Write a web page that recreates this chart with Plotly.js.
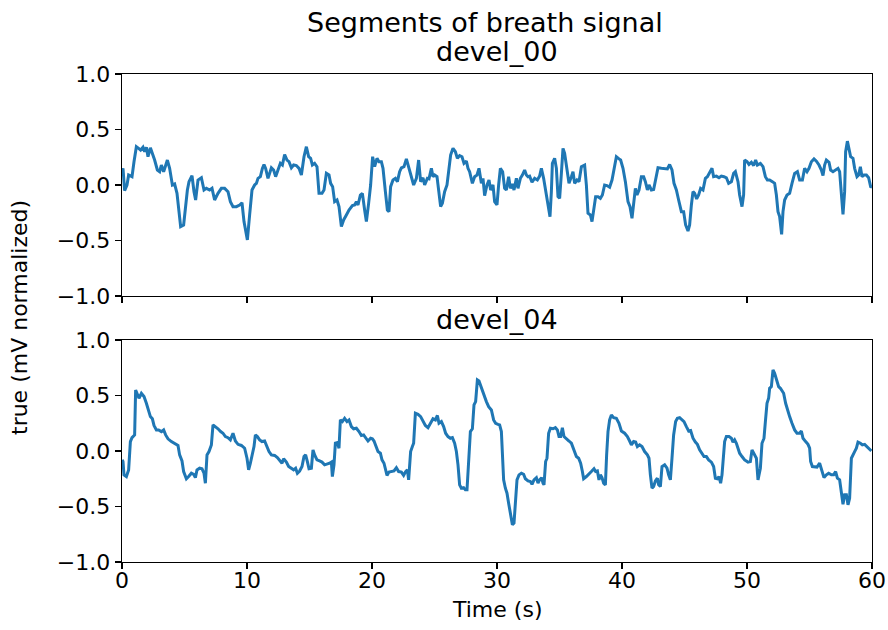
<!DOCTYPE html>
<html>
<head>
<meta charset="utf-8">
<script src="https://cdn.plot.ly/plotly-3.0.1.min.js"></script>
<style>html,body{margin:0;padding:0;background:#fff;}#chart{width:888px;height:630px;}</style>
</head>
<body>
<div id="chart"></div>
<script>
// devel_00 segment: [time (s), value]
const devel00 = [[0,0.12],[0.08,0.15],[0.21,-0.05],[0.4,0],[0.53,0.09],[0.8,0.075],[0.96,0.21],[1.15,0.345],[1.33,0.33],[1.49,0.315],[1.68,0.34],[1.81,0.3],[1.95,0.34],[2.08,0.255],[2.27,0.335],[2.43,0.285],[2.61,0.225],[2.83,0.135],[3.01,0.12],[3.15,0.18],[3.33,0.12],[3.63,0.225],[3.81,0.15],[4.03,0],[4.21,0.01],[4.4,-0.075],[4.56,-0.24],[4.69,-0.375],[4.93,-0.36],[5.09,-0.18],[5.23,-0.045],[5.36,0.03],[5.6,0.085],[5.76,-0.06],[5.89,-0.135],[6.08,0.045],[6.35,0.065],[6.56,-0.045],[6.75,-0.03],[7.01,-0.045],[7.2,-0.03],[7.41,-0.135],[7.68,-0.075],[7.95,-0.03],[8.21,-0.03],[8.48,-0.06],[8.67,-0.15],[8.88,-0.195],[9.15,-0.195],[9.41,-0.18],[9.6,-0.16],[9.76,-0.33],[9.9,-0.42],[10.03,-0.495],[10.21,-0.27],[10.4,-0.045],[10.61,0],[10.75,0.015],[10.88,0.06],[11.07,0.075],[11.23,0.15],[11.36,0.185],[11.49,0.15],[11.68,0.06],[11.81,0.105],[11.95,0.155],[12.13,0.135],[12.29,0.075],[12.48,0.135],[12.67,0.195],[12.83,0.18],[13.01,0.275],[13.2,0.225],[13.36,0.21],[13.55,0.155],[13.73,0.18],[13.95,0.175],[14.16,0.15],[14.35,0.09],[14.56,0.255],[14.75,0.345],[14.93,0.255],[15.09,0.24],[15.23,0.18],[15.41,0.195],[15.6,0.165],[15.76,-0.075],[16.0,-0.075],[16.16,-0.045],[16.35,0.105],[16.56,0.09],[16.69,0.015],[16.85,-0.015],[17.01,-0.15],[17.2,-0.135],[17.36,-0.195],[17.55,-0.375],[17.73,-0.315],[17.95,-0.27],[18.16,-0.225],[18.43,-0.185],[18.61,-0.18],[18.75,-0.15],[18.88,-0.18],[19.07,-0.09],[19.23,-0.075],[19.41,-0.225],[19.55,-0.33],[19.73,-0.165],[19.89,0],[20.05,0.255],[20.21,0.165],[20.4,0.24],[20.56,0.21],[20.75,0.21],[20.88,0.15],[21.07,-0.06],[21.23,-0.225],[21.36,-0.24],[21.49,-0.015],[21.68,0.045],[21.87,0.06],[22.03,0.03],[22.21,0.12],[22.35,0.155],[22.56,0.165],[22.75,0.235],[22.93,0.165],[23.09,0.09],[23.33,0],[23.55,0.06],[23.73,0.225],[23.89,0.03],[24.08,0.065],[24.21,0],[24.43,0.06],[24.56,0.055],[24.75,0.15],[24.88,0.075],[25.01,0.09],[25.2,0.075],[25.33,-0.06],[25.49,-0.195],[25.63,-0.165],[25.81,-0.06],[26.0,0],[26.13,0.15],[26.29,0.27],[26.48,0.33],[26.67,0.3],[26.83,0.24],[27.01,0.265],[27.2,0.255],[27.36,0.195],[27.55,0.215],[27.68,0.15],[27.81,0.12],[28.03,0.015],[28.21,0.075],[28.4,0.09],[28.56,0.15],[28.75,0.015],[28.88,0.06],[29.01,-0.095],[29.2,0],[29.36,0.045],[29.49,-0.045],[29.68,0],[29.81,-0.15],[30.0,-0.18],[30.13,0],[30.27,0.15],[30.45,0.12],[30.61,-0.03],[30.75,-0.045],[30.93,0.075],[31.07,-0.03],[31.23,0.01],[31.36,-0.045],[31.55,0.06],[31.68,-0.03],[31.87,0.06],[32.03,0.09],[32.21,0.135],[32.35,0.09],[32.48,0.075],[32.61,0.08],[32.8,0.025],[33.01,0.06],[33.23,0.045],[33.41,0.08],[33.55,0.15],[33.73,0.06],[33.89,-0.06],[34.08,-0.21],[34.24,-0.285],[34.35,-0.06],[34.43,0.195],[34.61,0.24],[34.75,0.15],[34.88,-0.105],[35.01,-0.12],[35.15,0.105],[35.28,0.33],[35.41,0.285],[35.55,0.18],[35.76,0.015],[35.95,0.075],[36.08,0.12],[36.21,0.015],[36.4,0.045],[36.56,0.03],[36.75,0.165],[37.01,0.18],[37.15,0],[37.28,-0.255],[37.47,-0.27],[37.6,-0.33],[37.73,-0.225],[37.89,-0.105],[38.08,-0.105],[38.27,-0.12],[38.43,-0.09],[38.61,0],[38.8,-0.005],[39.01,-0.02],[39.2,0.045],[39.36,0.15],[39.55,0.255],[39.76,0.235],[39.89,0.225],[40.08,0.15],[40.27,0.03],[40.48,-0.15],[40.64,-0.195],[40.8,-0.3],[40.93,-0.15],[41.07,-0.03],[41.2,-0.09],[41.36,-0.045],[41.55,0.075],[41.73,0.075],[41.87,0.03],[42.03,-0.045],[42.16,0],[42.35,-0.045],[42.53,-0.04],[42.69,0.06],[42.88,0.155],[43.15,0.15],[43.41,0.15],[43.63,0.145],[43.81,0.185],[44.0,0.135],[44.16,0.015],[44.35,-0.045],[44.53,-0.135],[44.75,-0.24],[44.93,-0.24],[45.09,-0.36],[45.28,-0.415],[45.41,-0.36],[45.55,-0.18],[45.68,-0.06],[45.81,-0.075],[45.97,-0.125],[46.13,-0.09],[46.29,-0.03],[46.48,-0.045],[46.67,0.06],[46.83,0.075],[47.01,0.115],[47.2,0.15],[47.33,0.075],[47.55,0.08],[47.76,0.065],[47.95,0.08],[48.16,0.075],[48.35,0.065],[48.53,0.015],[48.75,0.03],[48.93,0.105],[49.07,0.12],[49.28,0.03],[49.41,-0.09],[49.6,-0.195],[49.73,-0.09],[49.81,0.225],[50.0,0.21],[50.16,0.185],[50.35,0.205],[50.53,0.175],[50.69,0.225],[50.83,0.18],[51.07,0.195],[51.28,0.165],[51.47,0.075],[51.63,0.045],[51.81,0.045],[52.03,0.03],[52.21,0.015],[52.35,-0.09],[52.48,-0.24],[52.61,-0.285],[52.77,-0.445],[52.88,-0.24],[53.01,-0.135],[53.2,-0.09],[53.41,-0.075],[53.6,0.015],[53.81,0.105],[54.03,0.12],[54.21,0.045],[54.43,0.045],[54.61,0.15],[54.8,0.12],[54.96,0.15],[55.15,0.21],[55.36,0.235],[55.55,0.215],[55.76,0.18],[55.95,0.135],[56.08,0.085],[56.21,0.18],[56.35,0.225],[56.56,0.205],[56.69,0.135],[56.88,0.12],[57.09,0.135],[57.28,0.15],[57.41,0.12],[57.55,-0.12],[57.68,-0.265],[57.81,-0.06],[57.89,0.3],[58.03,0.395],[58.16,0.315],[58.29,0.255],[58.48,0.24],[58.61,0.15],[58.8,0.075],[58.93,0.09],[59.07,0.165],[59.2,0.075],[59.36,0.09],[59.55,0.09],[59.73,0.065],[59.89,-0.015],[60,-0.02]];

// devel_04 segment: [time (s), value]
const devel04 = [[0,-0.08],[0.08,-0.095],[0.16,-0.215],[0.35,-0.23],[0.53,-0.17],[0.67,0.085],[0.8,0.12],[1.01,0.145],[1.09,0.55],[1.23,0.505],[1.36,0.475],[1.55,0.52],[1.76,0.49],[1.95,0.43],[2.13,0.37],[2.27,0.31],[2.43,0.29],[2.56,0.23],[2.75,0.19],[2.93,0.19],[3.15,0.175],[3.33,0.19],[3.49,0.145],[3.68,0.11],[3.95,0.085],[4.21,0.07],[4.48,0.05],[4.61,-0.035],[4.8,-0.09],[4.93,-0.185],[5.15,-0.25],[5.33,-0.23],[5.55,-0.2],[5.73,-0.21],[5.87,-0.24],[6.0,-0.17],[6.21,-0.155],[6.4,-0.16],[6.56,-0.2],[6.67,-0.29],[6.8,-0.035],[6.96,-0.005],[7.15,0.055],[7.28,0.235],[7.47,0.22],[7.68,0.2],[7.89,0.175],[8.08,0.16],[8.27,0.13],[8.48,0.12],[8.67,0.1],[8.88,0.16],[9.07,0.09],[9.28,0.06],[9.55,0.05],[9.81,0.025],[10.0,-0.065],[10.13,-0.17],[10.27,-0.11],[10.43,-0.035],[10.56,0.04],[10.67,0.145],[10.83,0.13],[11.01,0.1],[11.2,0.085],[11.41,0.09],[11.6,0.04],[11.76,-0.005],[11.95,-0.035],[12.21,-0.04],[12.43,-0.06],[12.61,-0.08],[12.8,-0.11],[12.93,-0.07],[13.15,-0.1],[13.33,-0.14],[13.55,-0.16],[13.73,-0.17],[13.89,-0.155],[14.03,-0.2],[14.21,-0.18],[14.4,-0.14],[14.56,-0.05],[14.69,-0.035],[14.83,-0.095],[14.96,-0.16],[15.15,-0.155],[15.28,0.01],[15.41,-0.035],[15.6,-0.08],[15.81,-0.09],[16.0,-0.1],[16.21,-0.125],[16.4,-0.12],[16.61,-0.11],[16.75,-0.1],[16.83,-0.23],[16.96,-0.125],[17.07,0.07],[17.23,0.075],[17.36,0.025],[17.47,0.28],[17.63,0.265],[17.81,0.295],[18.0,0.265],[18.16,0.28],[18.35,0.22],[18.53,0.2],[18.75,0.205],[18.96,0.175],[19.15,0.14],[19.33,0.145],[19.55,0.115],[19.68,0.09],[19.89,0.115],[20.03,0.11],[20.16,0.09],[20.35,0.04],[20.48,-0.005],[20.67,-0.02],[20.8,-0.08],[20.96,-0.11],[21.07,-0.155],[21.2,-0.22],[21.36,-0.19],[21.55,-0.185],[21.76,-0.18],[21.95,-0.15],[22.13,-0.185],[22.35,-0.19],[22.53,-0.22],[22.69,-0.185],[22.83,-0.17],[22.93,-0.26],[23.09,-0.005],[23.23,0.04],[23.33,0.07],[23.47,0.34],[23.68,0.33],[23.89,0.31],[24.08,0.265],[24.27,0.23],[24.48,0.21],[24.67,0.25],[24.88,0.29],[25.07,0.28],[25.23,0.32],[25.36,0.25],[25.55,0.265],[25.73,0.22],[25.89,0.16],[26.08,0.13],[26.27,0.115],[26.43,0.12],[26.61,0.07],[26.75,-0.005],[26.88,-0.125],[27.01,-0.305],[27.15,-0.335],[27.33,-0.33],[27.47,-0.35],[27.6,-0.35],[27.73,-0.095],[27.87,0.175],[28.03,0.2],[28.16,0.415],[28.29,0.445],[28.43,0.64],[28.56,0.63],[28.75,0.565],[28.96,0.49],[29.15,0.445],[29.33,0.4],[29.55,0.37],[29.73,0.28],[29.89,0.25],[30.08,0.24],[30.21,0.235],[30.35,0.175],[30.43,-0.035],[30.53,-0.26],[30.67,-0.335],[30.8,-0.38],[30.93,-0.47],[31.07,-0.575],[31.23,-0.665],[31.36,-0.65],[31.47,-0.455],[31.6,-0.26],[31.76,-0.215],[31.95,-0.2],[32.13,-0.21],[32.27,-0.25],[32.48,-0.27],[32.67,-0.275],[32.8,-0.3],[32.96,-0.26],[33.15,-0.24],[33.28,-0.29],[33.41,-0.26],[33.57,-0.24],[33.68,-0.29],[33.76,-0.305],[33.89,-0.095],[34.0,-0.065],[34.13,0.16],[34.27,0.205],[34.48,0.2],[34.67,0.21],[34.83,0.19],[34.96,0.13],[35.09,0.13],[35.23,0.21],[35.36,0.13],[35.55,0.115],[35.76,0.09],[35.95,0.07],[36.08,0.025],[36.21,-0.005],[36.35,-0.05],[36.53,-0.065],[36.69,-0.11],[36.83,-0.185],[36.93,-0.25],[37.15,-0.23],[37.36,-0.21],[37.55,-0.185],[37.76,-0.16],[37.89,-0.185],[38.03,-0.18],[38.16,-0.26],[38.27,-0.215],[38.4,-0.24],[38.53,-0.29],[38.67,-0.305],[38.77,-0.035],[38.88,0.175],[39.01,0.28],[39.15,0.325],[39.33,0.3],[39.55,0.295],[39.76,0.25],[39.95,0.18],[40.21,0.16],[40.43,0.13],[40.61,0.09],[40.75,0.055],[40.93,0.085],[41.09,0.08],[41.23,0.04],[41.41,0.055],[41.6,0.04],[41.81,-0.005],[42.03,-0.035],[42.16,-0.065],[42.27,-0.215],[42.4,-0.335],[42.53,-0.32],[42.67,-0.27],[42.83,-0.245],[42.93,-0.305],[43.07,-0.32],[43.2,-0.14],[43.41,-0.125],[43.6,-0.155],[43.73,-0.215],[43.87,-0.26],[44.0,-0.065],[44.13,0.145],[44.29,0.265],[44.43,0.295],[44.61,0.3],[44.8,0.28],[44.96,0.265],[45.15,0.22],[45.33,0.18],[45.49,0.185],[45.68,0.115],[45.87,0.08],[46.03,0.06],[46.21,0.01],[46.4,-0.03],[46.56,-0.05],[46.75,-0.05],[46.93,-0.08],[47.15,-0.1],[47.33,-0.14],[47.47,-0.245],[47.63,-0.25],[47.76,-0.23],[47.89,-0.29],[48.0,-0.215],[48.11,-0.035],[48.21,0.085],[48.35,0.13],[48.56,0.13],[48.75,0.115],[48.88,0.08],[49.01,0.1],[49.15,0.07],[49.28,0.025],[49.41,-0.02],[49.6,-0.05],[49.81,-0.08],[50.08,-0.1],[50.27,-0.095],[50.4,0.01],[50.53,-0.02],[50.75,-0.065],[50.88,-0.26],[51.07,-0.155],[51.2,0.07],[51.36,0.115],[51.47,0.265],[51.6,0.43],[51.73,0.475],[51.81,0.565],[51.95,0.58],[52.08,0.73],[52.21,0.7],[52.35,0.64],[52.53,0.58],[52.67,0.565],[52.83,0.54],[52.93,0.52],[53.09,0.43],[53.23,0.37],[53.41,0.31],[53.6,0.25],[53.81,0.19],[54.0,0.16],[54.21,0.16],[54.35,0.18],[54.48,0.115],[54.69,0.085],[54.88,0.06],[55.01,0.025],[55.09,-0.095],[55.23,-0.14],[55.41,-0.14],[55.6,-0.145],[55.81,-0.11],[56.0,-0.17],[56.16,-0.24],[56.35,-0.215],[56.53,-0.2],[56.75,-0.215],[56.93,-0.215],[57.09,-0.185],[57.23,-0.245],[57.41,-0.26],[57.55,-0.365],[57.68,-0.48],[57.81,-0.395],[57.95,-0.395],[58.08,-0.485],[58.21,-0.425],[58.35,-0.065],[58.48,-0.03],[58.61,-0.005],[58.75,0.025],[58.88,0.08],[59.07,0.07],[59.23,0.055],[59.41,0.06],[59.6,0.04],[59.76,0.025],[59.95,0.0]];

const xTicks = [0, 10, 20, 30, 40, 50, 60];
const yTicks = [-1.0, -0.5, 0.0, 0.5, 1.0];
const titleMain = 'Segments of breath signal';
const subTitles = ['devel_00', 'devel_04'];
const xLabel = 'Time (s)';
const yLabel = 'true (mV normalized)';

const FONT = 'DejaVu Sans, sans-serif';
const BLUE = '#1f77b4';
const TICK_SIZE = 22, LABEL_SIZE = 22, TITLE_SIZE = 27;

const traces = [
  { x: devel00.map(p => p[0]), y: devel00.map(p => p[1]), xaxis: 'x2', yaxis: 'y2',
    type: 'scatter', mode: 'lines', line: { color: BLUE, width: 3 }, hoverinfo: 'skip' },
  { x: devel04.map(p => p[0]), y: devel04.map(p => p[1]), xaxis: 'x', yaxis: 'y',
    type: 'scatter', mode: 'lines', line: { color: BLUE, width: 3 }, hoverinfo: 'skip' }
];

const axBase = {
  showgrid: false, zeroline: false, showline: true, mirror: true,
  linecolor: '#000', linewidth: 1.4, ticks: 'outside', ticklen: 6, tickwidth: 1.4,
  tickcolor: '#000', tickfont: { family: FONT, size: TICK_SIZE, color: '#000' }
};

const topBottom = 266 / 488, botTop = 222 / 488;

const layout = {
  width: 888, height: 630,
  margin: { l: 122, r: 16, t: 74, b: 68 },
  paper_bgcolor: '#fff', plot_bgcolor: '#fff',
  showlegend: false,
  font: { family: FONT, color: '#000' },
  xaxis: Object.assign({}, axBase, { domain: [0, 1], anchor: 'y', range: [0, 60],
    tickvals: xTicks, ticktext: xTicks.map(String), ticklabelstandoff: -8 }),
  yaxis: Object.assign({}, axBase, { domain: [0, botTop], anchor: 'x', range: [-1, 1],
    tickvals: yTicks, tickformat: '.1f' }),
  xaxis2: Object.assign({}, axBase, { domain: [0, 1], anchor: 'y2', range: [0, 60],
    tickvals: xTicks, showticklabels: false }),
  yaxis2: Object.assign({}, axBase, { domain: [topBottom, 1], anchor: 'x2', range: [-1, 1],
    tickvals: yTicks, tickformat: '.1f' }),
  annotations: [
    { text: titleMain, xref: 'paper', yref: 'paper', x: 0.484, y: (562 - 22) / 488,
      xanchor: 'center', yanchor: 'middle', showarrow: false, font: { family: FONT, size: TITLE_SIZE, color: '#000' } },
    { text: subTitles[0], xref: 'paper', yref: 'paper', x: 0.5, y: (562 - 52) / 488,
      xanchor: 'center', yanchor: 'middle', showarrow: false, font: { family: FONT, size: TITLE_SIZE, color: '#000' } },
    { text: subTitles[1], xref: 'paper', yref: 'paper', x: 0.5, y: (562 - 319) / 488,
      xanchor: 'center', yanchor: 'middle', showarrow: false, font: { family: FONT, size: TITLE_SIZE, color: '#000' } },
    { text: xLabel, xref: 'paper', yref: 'paper', x: 0.5, y: (562 - 609) / 488,
      xanchor: 'center', yanchor: 'middle', showarrow: false, font: { family: FONT, size: LABEL_SIZE, color: '#000' } },
    { text: yLabel, xref: 'paper', yref: 'paper', x: (19 - 122) / 750, y: (562 - 318) / 488,
      xanchor: 'center', yanchor: 'middle', textangle: -90, showarrow: false, font: { family: FONT, size: LABEL_SIZE, color: '#000' } }
  ]
};

Plotly.newPlot('chart', traces, layout, { staticPlot: true, displayModeBar: false });
</script>
</body>
</html>
